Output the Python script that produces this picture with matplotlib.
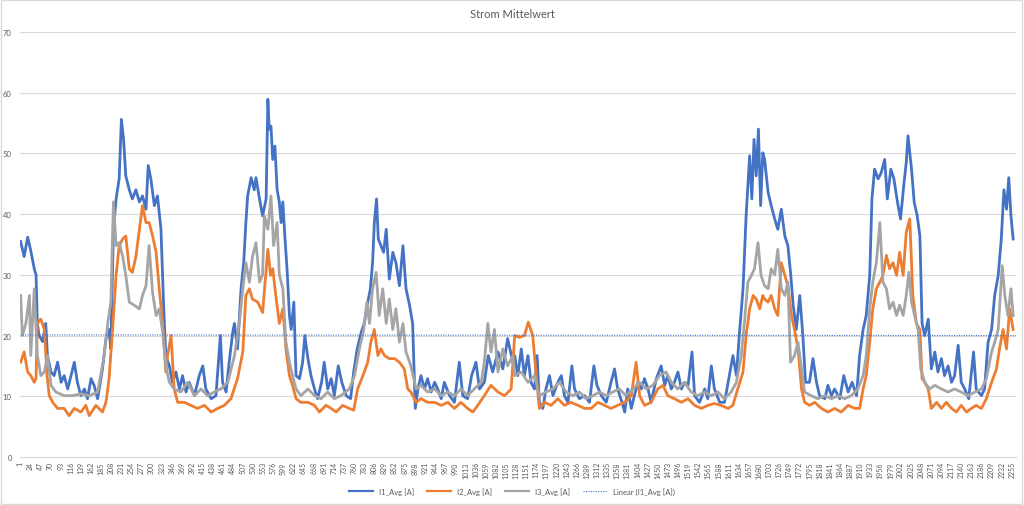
import matplotlib.pyplot as plt
from matplotlib.patches import Rectangle

plt.rcParams["font.family"] = ["Lato", "DejaVu Sans"]

title = "Strom Mittelwert"
n_points = 2264
tick_step = 23
series_names = ["I1_Avg [A]", "I2_Avg [A]", "I3_Avg [A]"]
trend_name = "Linear (I1_Avg [A])"
trend_start, trend_end = 20.1, 20.0

i1_idx = [
    2, 10, 18, 25, 33, 37, 40, 44, 52, 59, 63, 71, 78, 86, 94, 101, 109, 124, 131, 139,
    147, 154, 162, 169, 177, 188, 196, 203, 207, 213, 219, 226, 231, 236, 241, 249, 256, 264, 272, 279,
    287, 292, 298, 306, 313, 321, 327, 332, 340, 347, 355, 363, 370, 378, 385, 397, 408, 416, 423, 435,
    446, 456, 461, 469, 476, 484, 488, 495, 503, 509, 514, 518, 526, 533, 537, 545, 552, 560,
    564, 567, 571, 575, 580, 585, 590, 594, 598, 603, 608, 613, 617, 623, 628, 636, 643, 648, 655, 662,
    670, 677, 686, 692, 700, 708, 715, 724, 732, 742, 752, 759, 767, 776, 783, 791, 797, 802, 806, 811,
    815, 821, 827, 833, 840, 848, 855, 863, 871, 878, 886, 893, 899, 905, 912, 920, 927, 935, 943, 950,
    958, 965, 977, 988, 999, 1007, 1018, 1027, 1037, 1045, 1056, 1065, 1075, 1087, 1098, 1109, 1121,
    1125, 1132, 1140, 1147, 1155, 1162, 1170, 1176, 1181, 1189, 1196, 1204, 1212, 1223, 1231, 1238, 1246, 1255, 1261, 1272,
    1284, 1295, 1305, 1312, 1322, 1333, 1344, 1352, 1359, 1369, 1375, 1382, 1390, 1397, 1405, 1413, 1420, 1428, 1435, 1447,
    1458, 1466, 1473, 1481, 1488, 1496, 1504, 1511, 1519, 1528, 1534, 1545, 1557, 1564, 1572, 1579, 1591, 1602, 1613, 1621,
    1629, 1636, 1644, 1651, 1659, 1664, 1669, 1674, 1679, 1684, 1689,
    1693, 1701, 1708, 1716, 1723, 1731, 1739, 1746, 1752, 1758, 1765, 1773, 1780, 1786, 1795, 1803, 1811, 1818, 1830, 1837,
    1845, 1852, 1864, 1873, 1883, 1892, 1902, 1909, 1917, 1924, 1932, 1937, 1943, 1951, 1958, 1966, 1972, 1980, 1987, 1995,
    2002, 2010, 2015, 2019, 2027, 2033, 2040, 2046, 2051, 2057, 2065, 2072, 2080, 2087, 2095, 2102, 2110, 2118, 2125, 2133,
    2140, 2148, 2157, 2168, 2174, 2186, 2193, 2201, 2209, 2216, 2224, 2231, 2237, 2243, 2248, 2253, 2258,
]
i1_val = [
    35.5, 33, 36.2, 34, 31, 30, 22, 20, 19, 22, 16.7, 14, 13.4, 15.6, 12.3, 13.4, 11.2, 15.6, 12.3, 10.1,
    11.2, 9.6, 12.9, 11.8, 9.6, 14.5, 19.5, 21, 17.8, 37.5, 42.5, 45.8, 55.6, 52.3, 46.3, 44, 42.5, 44, 42, 43,
    40.8, 48, 45.8, 41.4, 43, 37.5, 25, 16.7, 15, 12.3, 14, 11.2, 13.4, 10.7, 12.3, 10.1, 13.4, 15, 11.2, 9.6,
    10.1, 20, 12.3, 10.7, 15.6, 20.5, 22, 17.8, 27.7, 32, 38.6, 43, 46, 44, 46, 42.5, 39.7, 42.5,
    58.9, 54, 54.5, 49, 51.2, 44, 42, 38.6, 42, 35.9, 30.4, 23.3, 21, 25.5, 13.4, 12.9, 15.6, 20, 16.2, 13.4,
    11.2, 9.6, 12.3, 15.6, 11.2, 12.9, 10.1, 15, 12.3, 10.1, 9.6, 14, 17.8, 20.5, 22, 25.5, 27.7, 32, 38.6, 42.5,
    35.9, 34.8, 33.7, 37.5, 29.3, 33.7, 32, 28.2, 34.8, 27.7, 25, 22, 8, 11.2, 13.4, 11.2, 12.9, 10.7, 12.3, 11.2,
    9.6, 12.3, 10.1, 9, 15.6, 10.1, 9.6, 13.4, 15.6, 11.2, 12.3, 16.7, 14, 17.3, 14.5, 19.5, 15.6,
    16.7, 13.4, 17.8, 13.4, 16.7, 12.3, 11.2, 16.7, 9, 8, 11.2, 13.4, 10.1, 12.3, 13.4, 10.1, 9, 15, 11.2, 9.6,
    10.1, 9, 15, 11.8, 10.1, 9, 12.3, 14.5, 11.2, 9, 7.4, 11.2, 8, 10.1, 12.3, 11.2, 12.9, 11.2, 9, 12.9,
    15, 11.8, 13.4, 11.2, 12.3, 14, 11.2, 12.3, 11.8, 17.3, 10.1, 9, 11.2, 9.6, 15, 11.2, 9, 9, 13.4, 16.7,
    13.4, 20.5, 27.7, 39.7, 49.6, 42.5, 52.3, 46.3, 54, 41.4, 50.1,
    49, 43.6, 41.4, 39.2, 37.5, 40.8, 36.4, 34.8, 30.4, 25, 21, 26.6, 20, 12.3, 12.3, 16.2, 12.3, 10.1, 9.6, 11.8,
    10.1, 11.2, 9.6, 13.4, 10.7, 12.3, 10.1, 16.7, 21, 23.3, 29.9, 42.5, 47.4, 45.8, 46.8, 49, 42.5, 47.4, 45.8, 42,
    39.2, 45.2, 48.5, 52.9, 47.4, 42, 39.7, 36.4, 22, 20, 22.7, 14.5, 17.3, 14, 16.2, 13.4, 15, 12.3, 13.4, 18.4,
    12.3, 11.2, 9.6, 17.3, 11.2, 10.1, 11.2, 18.9, 21, 26.6, 29.9, 35.9, 44, 40.8, 46, 39.7, 35.9,
]

# I2
i2_idx = [
    2, 10, 18, 25, 33, 37, 40, 48, 56, 62, 67, 75, 86, 101, 112, 124, 139, 150, 158, 173,
    188, 196, 203, 211, 219, 226, 234, 241, 249, 256, 264, 272, 279, 287, 294, 302, 310, 317, 325, 332,
    336, 344, 351, 359, 374, 389, 404, 420, 435, 450, 465, 480, 495, 507, 514, 522, 529, 541, 552,
    564, 570, 575, 582, 590, 598, 605, 613, 620, 628, 639, 655, 670, 681, 696, 708, 719, 734, 749, 759,
    768, 780, 791, 798, 806, 814, 821, 829, 840, 852, 863, 874, 882, 889, 901, 912, 927, 943, 958, 973,
    988, 1003, 1018, 1030, 1041, 1056, 1071, 1087, 1102, 1117,
    1125, 1136, 1147, 1156, 1166, 1174, 1181, 1193, 1208, 1223, 1238, 1253, 1269, 1284, 1299, 1314, 1329, 1344, 1359, 1375,
    1390, 1401, 1409, 1420, 1435, 1450, 1462, 1473, 1488, 1504, 1519, 1534, 1549, 1564, 1579, 1594, 1610, 1621, 1632, 1644,
    1651, 1659, 1667, 1674, 1682, 1689,
    1693, 1701, 1708, 1716, 1723, 1731, 1739, 1746, 1754, 1761, 1769, 1777, 1784, 1795, 1807, 1822, 1837, 1852, 1867, 1883,
    1898, 1909, 1917, 1924, 1932, 1939, 1947, 1955, 1962, 1970, 1977, 1985, 1993, 2000, 2008, 2015, 2023, 2030, 2038, 2046,
    2051, 2057, 2065, 2072, 2084, 2095, 2106, 2118, 2129, 2140, 2152, 2163, 2174, 2186, 2197, 2209, 2220, 2227, 2235, 2243,
    2250, 2258,
]
i2_val = [
    15.6, 17.3, 14, 13.4, 12.3, 12.9, 22, 22.7, 21, 13.4, 10.1, 9, 8, 8, 6.8, 8, 7.4, 8.5, 6.8, 8.5,
    7.4, 9, 12.9, 21, 29.9, 34.8, 35.9, 36.4, 31, 30.4, 33, 37.5, 41.4, 38.6, 38.6, 36.4, 33.7, 27.7, 22, 14,
    16.7, 20, 11.2, 9, 9, 8.5, 8, 8.5, 7.4, 8, 8.5, 9.6, 12.9, 17.3, 26.6, 27.7, 26, 25.5, 23.8,
    34.2, 29.9, 31, 26.6, 22, 24.4, 17.8, 13.4, 11.8, 9.6, 9, 9, 8.5, 7.4, 8.5, 8, 7.4, 8.5, 8, 7.7,
    11.2, 13.4, 15.6, 18.9, 21, 16.7, 17.8, 16.7, 16.2, 16.2, 15.6, 14.5, 11.2, 10.7, 9, 9.6, 9, 9, 8.5, 9,
    8, 9, 8, 7.4, 8.5, 10.1, 11.8, 10.7, 10.1, 11.2,
    20, 19.7, 20, 22.2, 20, 13.4, 8, 9, 8.5, 9.6, 8.5, 9, 8.5, 8, 8, 9, 8.5, 8, 8.5, 9,
    10.1, 15.6, 10.1, 8.5, 9, 11.2, 11.8, 10.1, 9.6, 9, 9.6, 8.5, 8, 8.5, 8.8, 8.5, 8, 8.5, 11.2, 14,
    20, 24.4, 26.6, 26, 24.4, 26.6,
    26, 25.5, 26.6, 24.4, 23.3, 32, 29.9, 28.2, 23.3, 21, 17.8, 11.2, 9, 8.5, 9, 8, 7.4, 8, 7.4, 8.5,
    8, 8, 11.2, 13.4, 18.9, 24.4, 27.7, 28.8, 29.9, 33.2, 31, 32, 29.9, 33.7, 29.9, 37, 39.2, 26.6, 22, 21,
    12.9, 12.3, 11.2, 8, 9, 8, 9, 8, 7.4, 8.5, 7.4, 8, 8.5, 8, 9.6, 12.3, 14.5, 17.8, 21, 17.8,
    24.4, 21,
]

# I3
i3_idx = [
    2, 6, 14, 22, 25, 33, 40, 48, 56, 63, 71, 82, 101, 120, 139, 158, 177, 192, 200, 207,
    213, 219, 226, 234, 241, 249, 260, 272, 279, 287, 294, 302, 310, 317, 325, 332, 340, 351, 366, 382,
    397, 412, 427, 442, 457, 473, 488, 499, 507, 514, 522, 529, 537, 545, 552,
    556, 564, 571, 577, 585, 590, 598, 605, 613, 620, 628, 639, 655, 670, 685, 700, 715, 730, 749, 761,
    772, 782, 789, 795, 802, 810, 817, 825, 833, 840, 848, 855, 863, 871, 878, 889, 901, 912, 927, 943,
    958, 973, 988, 1003, 1018, 1033, 1049, 1056, 1064, 1071, 1079, 1087, 1098, 1109, 1121,
    1125, 1140, 1155, 1170, 1181, 1196, 1212, 1227, 1242, 1257, 1272, 1287, 1303, 1318, 1333, 1348, 1363, 1378, 1394, 1409,
    1424, 1439, 1454, 1469, 1481, 1496, 1511, 1526, 1541, 1557, 1572, 1587, 1602, 1617, 1629, 1640, 1647, 1655, 1663, 1670,
    1678, 1685,
    1693, 1701, 1708, 1716, 1723, 1731, 1739, 1746, 1752, 1761, 1769, 1777, 1784, 1799, 1814, 1830, 1845, 1860, 1875, 1890,
    1905, 1917, 1924, 1932, 1939, 1947, 1955, 1962, 1970, 1977, 1985, 1993, 2000, 2008, 2015, 2021, 2027, 2034, 2042, 2048,
    2057, 2068, 2080, 2095, 2110, 2125, 2140, 2155, 2171, 2186, 2197, 2209, 2216, 2224, 2233, 2239, 2246, 2253, 2258,
]
i3_val = [
    26.6, 20, 22, 26.6, 16.7, 27.7, 16.7, 13.4, 14, 16.7, 11.8, 10.7, 10.1, 10.1, 10.4, 10.1, 10.7, 16.7, 22, 25.5,
    42, 34.8, 35.3, 33, 30, 25.5, 25, 24.4, 26.6, 28.2, 34.8, 27, 23.3, 24.4, 20.5, 15, 12.3, 11.2, 10.7, 12.3,
    10.1, 11.2, 10.1, 10.7, 11.2, 12.3, 16.7, 22, 27.7, 32, 28.8, 33, 35.3, 28.8, 30,
    39.7, 37.5, 43, 34.8, 38.6, 30, 27.7, 18.9, 15.6, 13.4, 11.2, 10.1, 11.2, 10.1, 9.6, 10.7, 9.6, 10.1, 11.2, 13.4,
    17.8, 21, 25.5, 22, 27.7, 30.4, 23.3, 27.7, 22, 26, 21, 24.4, 18.9, 22, 17.3, 15, 11.2, 11.8, 10.7, 11.2,
    10.1, 10.7, 10.1, 11.2, 10.1, 11.2, 12.3, 15.6, 22, 17.3, 21, 14, 17.8, 15, 16.7,
    13.4, 14, 12.3, 13.4, 10.1, 10.7, 11.2, 12.3, 10.7, 10.1, 10.7, 9.6, 10.1, 10.7, 10.1, 10.7, 11.2, 10.1, 11.2, 12.3,
    11.2, 11.8, 13.4, 14, 12.3, 11.2, 12.3, 10.7, 10.1, 10.7, 10.1, 10.7, 9.6, 10.7, 12.3, 16.7, 22, 28.8, 29.9, 31,
    35.3, 29.9,
    28.2, 27.7, 31, 30, 34.2, 27.7, 26.6, 28.8, 15.6, 16.7, 18.9, 14.5, 10.7, 10.1, 9.6, 10.1, 9.6, 10.1, 9.6, 10.1,
    11.2, 13.4, 16.7, 24.4, 28.8, 32, 38.6, 28.8, 27.7, 24.4, 25.5, 23.3, 25, 23.3, 26.6, 30.4, 25.5, 23.3, 21, 14.5,
    12.3, 11.2, 11.8, 11.2, 10.7, 11.2, 10.7, 10.1, 10.7, 11.2, 12.9, 17.3, 18.9, 21, 31.5, 26.6, 23.3, 27.7, 23.3,
]

colors = ["#4472C4", "#ED7D31", "#A5A5A5"]
text_color = "#595959"
grid_color = "#D9D9D9"

fig = plt.figure(figsize=(10.24, 5.06), dpi=100)
ax = fig.add_axes([0.0195, 0.0949, 0.9727, 0.84])

for x, y, c, name in zip([i1_idx, i2_idx, i3_idx], [i1_val, i2_val, i3_val], colors, series_names):
    ax.plot(x, y, color=c, lw=2.0, label=name, solid_joinstyle="round")

ax.plot([1, n_points], [trend_start, trend_end], color=colors[0],
        lw=0.8, ls=(0, (1, 1.2)), label=trend_name)

ax.set_xlim(0.5, n_points + 0.5)
ax.set_ylim(0, 70)
ax.set_yticks(range(0, 71, 10))
ax.grid(axis="y", color=grid_color, lw=0.8)
ax.set_axisbelow(True)
for s in ["top", "right", "left"]:
    ax.spines[s].set_visible(False)
ax.spines["bottom"].set_color(grid_color)

xt = list(range(1, n_points + 1, tick_step))
ax.set_xticks(xt)
ax.set_xticklabels([str(t) for t in xt], rotation=90, fontsize=5, color=text_color)
ax.tick_params(axis="x", length=0, pad=3)
ax.tick_params(axis="y", length=0, pad=6, labelsize=5.5, labelcolor=text_color)

fig.text(0.5, 1 - 15 / 506, title, ha="center", va="center", fontsize=8, color=text_color)

leg = fig.legend(loc="center", bbox_to_anchor=(0.5, 0.028), ncol=4, frameon=False,
                 fontsize=5.5, handlelength=3.2, columnspacing=1.6, labelcolor=text_color)
for h in leg.legend_handles[:3]:
    h.set_linewidth(1.6)

fig.patches.append(Rectangle((0.001, 0.002), 0.997, 0.996, transform=fig.transFigure,
                             fill=False, edgecolor=grid_color, lw=1))

fig.savefig("out.png", dpi=100)
